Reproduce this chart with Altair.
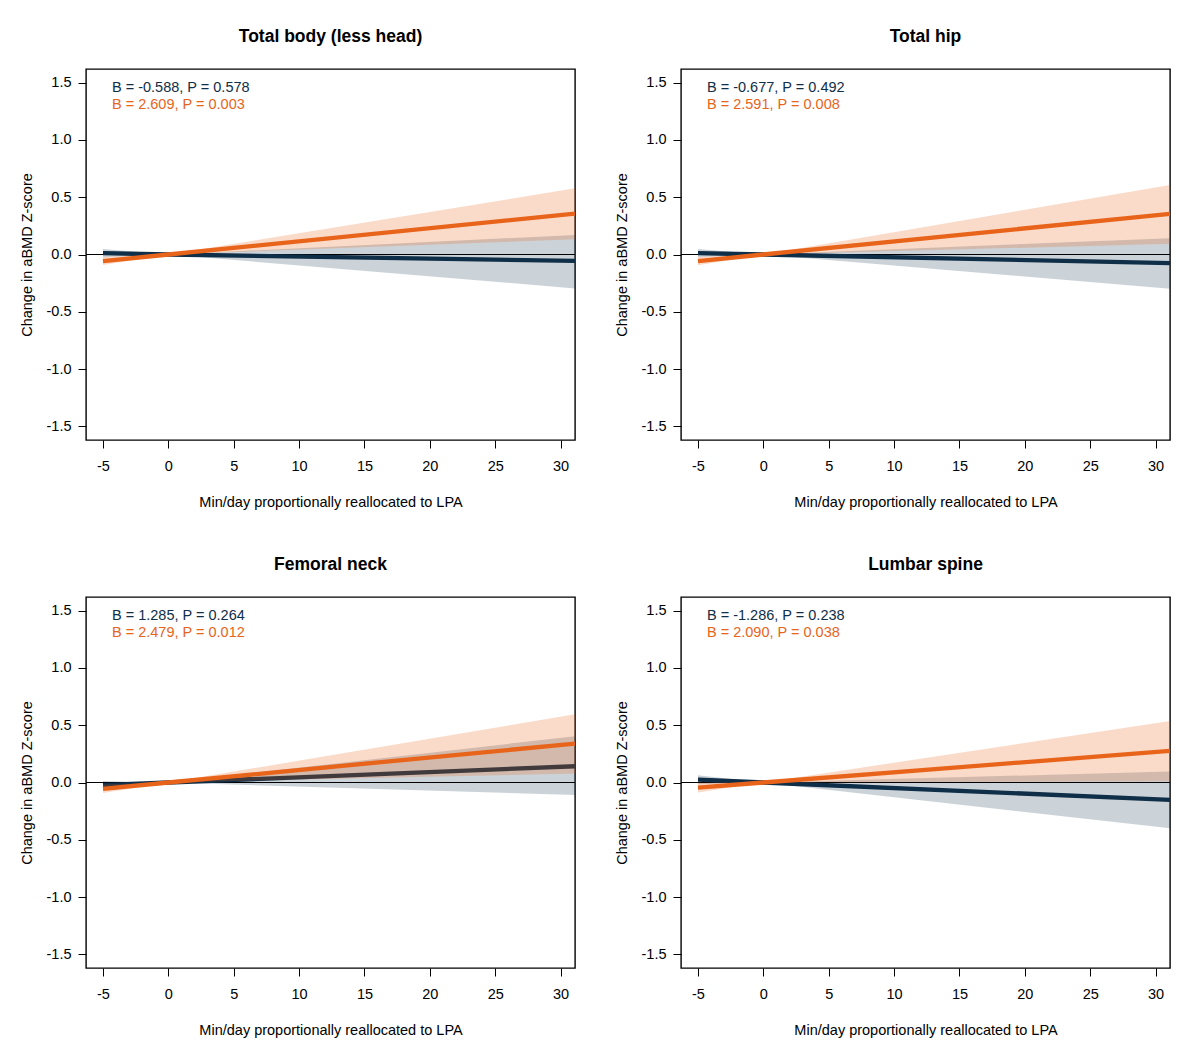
import altair as alt
import pandas as pd

# ---------------- data ----------------
panel_titles = ["Total body (less head)", "Total hip", "Femoral neck", "Lumbar spine"]

x_vals = [-5, 0, 31.1]  # min/day reallocated (line start, origin, right edge)

# navy series: estimate, lower, upper at each x
navy_est = [[0.012, 0.0, -0.056], [0.012, 0.0, -0.075], [-0.023, 0.0, 0.142], [0.025, 0.0, -0.151]]
navy_lo  = [[-0.025, 0.0, -0.296], [-0.025, 0.0, -0.300], [-0.060, 0.0, -0.110], [-0.015, 0.0, -0.400]]
navy_hi  = [[0.048, 0.0, 0.171], [0.049, 0.0, 0.143], [0.014, 0.0, 0.404], [0.064, 0.0, 0.096]]

# orange series
orange_est = [[-0.057, 0.0, 0.357], [-0.057, 0.0, 0.355], [-0.055, 0.0, 0.340], [-0.045, 0.0, 0.276]]
orange_lo  = [[-0.092, 0.0, 0.133], [-0.093, 0.0, 0.093], [-0.092, 0.0, 0.078], [-0.088, 0.0, 0.010]]
orange_hi  = [[-0.022, 0.0, 0.578], [-0.021, 0.0, 0.608], [-0.018, 0.0, 0.595], [-0.002, 0.0, 0.538]]

navy_labels = ["B = -0.588, P = 0.578", "B = -0.677, P = 0.492",
               "B = 1.285, P = 0.264", "B = -1.286, P = 0.238"]
orange_labels = ["B = 2.609, P = 0.003", "B = 2.591, P = 0.008",
                 "B = 2.479, P = 0.012", "B = 2.090, P = 0.038"]

x_ticks = [-5, 0, 5, 10, 15, 20, 25, 30]
y_ticks = [-1.5, -1.0, -0.5, 0.0, 0.5, 1.0, 1.5]

# ---------------- styling ----------------
NAVY = "#0f2e48"
ORANGE = "#e8641b"
FONT = "Liberation Sans"
FS = 14.5
W, H = 489, 371

xs = alt.Scale(domain=[-6.3, 31.1], nice=False, zero=False)
ys = alt.Scale(domain=[-1.62, 1.62], nice=False, zero=False)

neg_fmt_x = "datum.value < 0 ? '-' + format(-datum.value, 'd') : format(datum.value, 'd')"
neg_fmt_y = "datum.value < 0 ? '-' + format(-datum.value, '.1f') : format(datum.value, '.1f')"

xaxis = alt.Axis(values=x_ticks, labelExpr=neg_fmt_x, domain=False, grid=False,
                 tickSize=8, tickColor="black", tickWidth=1, labelPadding=11,
                 labelFontSize=FS, labelColor="black", labelFont=FONT,
                 titleFontSize=FS, titleFontWeight="normal", titleColor="black", titleFont=FONT,
                 minExtent=30, maxExtent=30, titlePadding=25)
yaxis = alt.Axis(values=y_ticks, labelExpr=neg_fmt_y, domain=False, grid=False,
                 tickSize=8, tickColor="black", tickWidth=1, labelPadding=7,
                 labelFontSize=FS, labelColor="black", labelFont=FONT,
                 titleFontSize=FS, titleFontWeight="normal", titleColor="black", titleFont=FONT,
                 minExtent=44, maxExtent=44, titlePadding=8)

XT = "Min/day proportionally reallocated to LPA"
YT = "Change in aBMD Z-score"


def panel(i):
    rows = []
    for j, xv in enumerate(x_vals):
        rows.append(dict(x=xv, grp="navy", est=navy_est[i][j], lo=navy_lo[i][j], hi=navy_hi[i][j]))
        rows.append(dict(x=xv, grp="orange", est=orange_est[i][j], lo=orange_lo[i][j], hi=orange_hi[i][j]))
    df = pd.DataFrame(rows)
    base = alt.Chart(df)
    X = alt.X("x:Q", scale=xs, axis=xaxis, title=XT)

    def band(g, col, op):
        return base.transform_filter(alt.datum.grp == g).mark_area(
            color=col, opacity=op, clip=True).encode(
            x=X, y=alt.Y("lo:Q", scale=ys, axis=yaxis, title=YT), y2="hi:Q")

    def line(g, col):
        return base.transform_filter(alt.datum.grp == g).mark_line(
            color=col, strokeWidth=4.3, strokeCap="butt", clip=True).encode(
            x=X, y=alt.Y("est:Q", scale=ys, axis=yaxis, title=YT))

    zero = alt.Chart(pd.DataFrame({"z": [0.0]})).mark_rule(
        color="black", strokeWidth=1).encode(y=alt.Y("z:Q", scale=ys, axis=yaxis, title=YT))

    t1 = alt.Chart(pd.DataFrame({"t": [navy_labels[i]]})).mark_text(
        align="left", baseline="middle", fontSize=FS, font=FONT, color=NAVY).encode(
        text="t:N", x=alt.value(26), y=alt.value(19))
    t2 = alt.Chart(pd.DataFrame({"t": [orange_labels[i]]})).mark_text(
        align="left", baseline="middle", fontSize=FS, font=FONT, color=ORANGE).encode(
        text="t:N", x=alt.value(26), y=alt.value(36))

    return alt.layer(
        band("navy", NAVY, 0.21), zero, line("navy", NAVY),
        band("orange", ORANGE, 0.23), line("orange", ORANGE), t1, t2
    ).properties(
        width=W, height=H,
        title=alt.TitleParams(panel_titles[i], fontSize=17.5, fontWeight="bold", font=FONT,
                              color="black", anchor="middle", frame="group", offset=24),
    )


chart = alt.vconcat(
    alt.hconcat(panel(0), panel(1), spacing=36),
    alt.hconcat(panel(2), panel(3), spacing=36),
    spacing=44,
).configure_view(stroke="black", strokeWidth=1.4).properties(
    padding={"left": 10, "top": 18, "right": 5, "bottom": 5}
)

chart.save("out.html", embed_options={"renderer": "svg", "actions": False})
